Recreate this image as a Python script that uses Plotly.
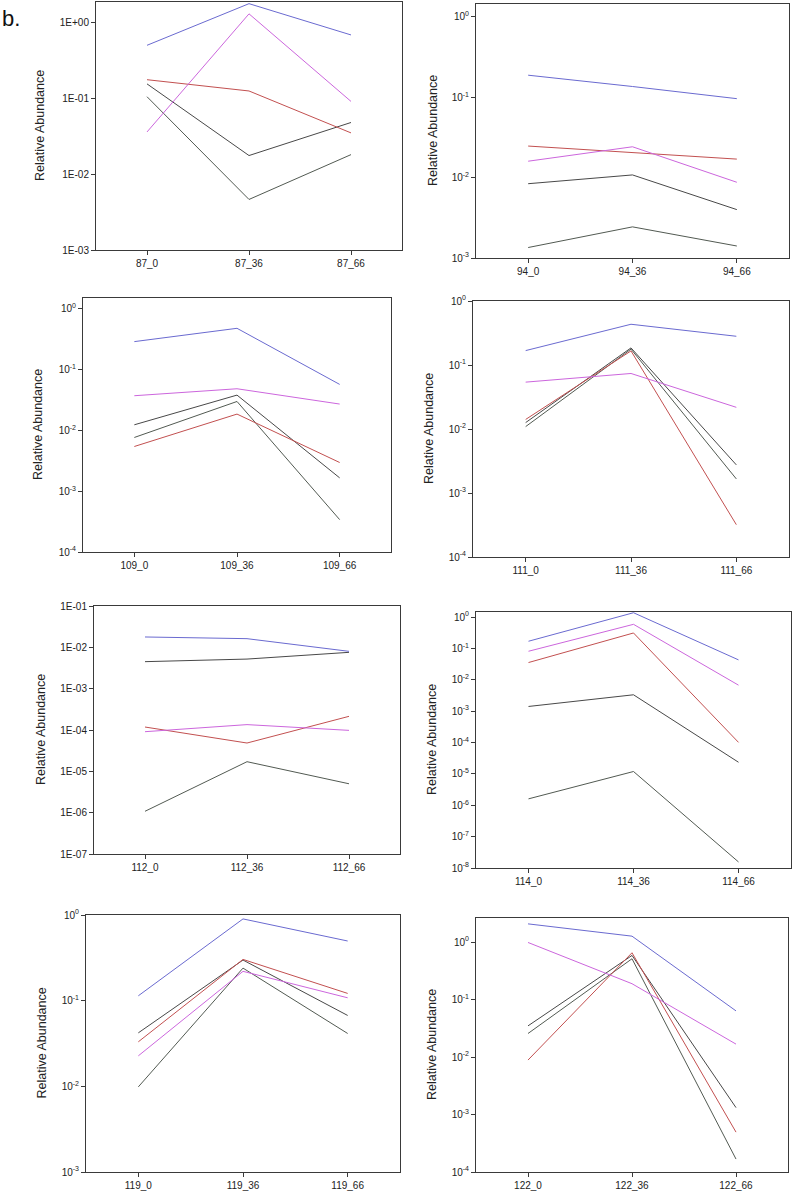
import plotly.graph_objects as go
import math

# ---- data ----
panel_ids = ["87", "94", "109", "111", "112", "114", "119", "122"]
timepoints = ["0", "36", "66"]

blue = {
    "87": [0.50, 1.77, 0.685], "94": [0.188, 0.136, 0.096], "109": [0.29, 0.48, 0.0573],
    "111": [0.168, 0.433, 0.281], "112": [0.0178, 0.0162, 0.0080], "114": [0.169, 1.37, 0.043],
    "119": [0.114, 0.90, 0.497], "122": [2.08, 1.27, 0.0636],
}
magenta = {
    "87": [0.036, 1.30, 0.091], "94": [0.016, 0.0242, 0.00875], "109": [0.0373, 0.0486, 0.0272],
    "111": [0.054, 0.0737, 0.0218], "112": [9.1e-5, 1.35e-4, 9.8e-5], "114": [0.081, 0.585, 0.00673],
    "119": [0.0227, 0.22, 0.108], "122": [0.987, 0.189, 0.0168],
}
red = {
    "87": [0.176, 0.125, 0.035], "94": [0.0247, 0.0207, 0.0170], "109": [0.00545, 0.0186, 0.00297],
    "111": [0.0141, 0.166, 0.00032], "112": [1.18e-4, 4.84e-5, 2.14e-4], "114": [0.0354, 0.31, 1.01e-4],
    "119": [0.0331, 0.303, 0.1215], "122": [0.00887, 0.653, 4.94e-4],
}
gray1 = {
    "87": [0.155, 0.0176, 0.048], "94": [0.0084, 0.0108, 0.0040], "109": [0.0124, 0.0382, 0.00166],
    "111": [0.0126, 0.185, 0.00275], "112": [0.0045, 0.0052, 0.00757], "114": [0.00141, 0.00332, 2.35e-5],
    "119": [0.0421, 0.298, 0.0672], "122": [0.0349, 0.587, 0.00132],
}
gray2 = {
    "87": [0.105, 0.00464, 0.0181], "94": [0.00135, 0.00244, 0.00141], "109": [0.00767, 0.030, 0.000341],
    "111": [0.0109, 0.177, 0.00166], "112": [1.08e-6, 1.71e-5, 5.0e-6], "114": [1.6e-6, 1.19e-5, 1.56e-8],
    "119": [0.00986, 0.24, 0.0414], "122": [0.0257, 0.514, 1.68e-4],
}

# y ranges (log10) and tick style per panel
y_ranges = {
    "87": [-3, 0.27], "94": [-3, 0.16], "109": [-4, 0.18], "111": [-4, 0],
    "112": [-7, -1], "114": [-8, 0.16], "119": [-3, 0], "122": [-4, 0.42],
}
tick_style = {"87": "E", "112": "E"}

# ---- layout geometry (pixels) ----
W, H = 794, 1192
boxes = {
    "87": (96, 402, 2, 250), "94": (476, 789, 4, 258),
    "109": (83, 391, 298, 552), "111": (473, 789, 301, 557),
    "112": (94, 400, 606, 854), "114": (476, 791, 612, 868),
    "119": (86, 400, 915, 1172), "122": (476, 788, 918, 1172),
}
title_x = {"87": 40, "94": 433, "109": 38, "111": 429, "112": 41, "114": 432, "119": 41, "122": 432}

series = [
    (gray2, "#525a52"),
    (gray1, "#484848"),
    (red, "#c25050"),
    (magenta, "#cc66dd"),
    (blue, "#6a6ad0"),
]

fig = go.Figure()
font_family = "Liberation Sans, Arial, sans-serif"
annotations = []

for i, pid in enumerate(panel_ids):
    n = i + 1
    xa = "x" if n == 1 else f"x{n}"
    ya = "y" if n == 1 else f"y{n}"
    cats = [f"{pid}_{t}" for t in timepoints]
    for data, color in series:
        fig.add_trace(go.Scatter(
            x=cats, y=data[pid], mode="lines",
            line=dict(color=color, width=1),
            xaxis=xa, yaxis=ya, showlegend=False, hoverinfo="skip",
        ))
    x0, x1, y0, y1 = boxes[pid]
    lo, hi = y_ranges[pid]
    exps = list(range(math.ceil(lo), math.floor(hi) + 1))
    tickvals = [10 ** e for e in exps]
    if pid in tick_style:
        ticktext = [("1E+%02d" % e) if e >= 0 else ("1E-%02d" % (-e)) for e in exps]
    else:
        ticktext = [f"10<sup>{e}</sup>" for e in exps]
    axis_common = dict(
        showline=True, linecolor="#3a3a3a", linewidth=1, mirror=True,
        ticks="outside", ticklen=4, tickcolor="#3a3a3a", tickwidth=1,
        showgrid=False, zeroline=False, automargin=False,
        tickfont=dict(family=font_family, size=10, color="#222"),
    )
    fig.layout[f"xaxis{'' if n == 1 else n}"] = dict(
        axis_common, domain=[x0 / W, x1 / W], anchor=ya,
        type="category", categoryorder="array", categoryarray=cats,
        range=[-0.5, 2.5], fixedrange=True,
    )
    fig.layout[f"yaxis{'' if n == 1 else n}"] = dict(
        axis_common, domain=[1 - y1 / H, 1 - y0 / H], anchor=xa,
        type="log", range=[lo, hi], tickvals=tickvals, ticktext=ticktext,
        fixedrange=True,
    )
    annotations.append(dict(
        text="Relative Abundance", xref="paper", yref="paper",
        x=title_x[pid] / W, y=1 - (y0 + y1) / 2 / H, textangle=-90,
        showarrow=False, xanchor="center", yanchor="middle",
        font=dict(family=font_family, size=12.5, color="#222"),
    ))

annotations.append(dict(
    text="b.", xref="paper", yref="paper", x=0 / W, y=1 - 18 / H,
    showarrow=False, xanchor="left", yanchor="middle",
    font=dict(family=font_family, size=22, color="#111"),
))

fig.update_layout(
    template="none",
    width=W, height=H, margin=dict(l=0, r=0, t=0, b=0, pad=0),
    paper_bgcolor="white", plot_bgcolor="white",
    annotations=annotations, showlegend=False,
)

fig.write_html("out.html", config={"displayModeBar": False},
               post_script="document.body.style.margin='0px';")
